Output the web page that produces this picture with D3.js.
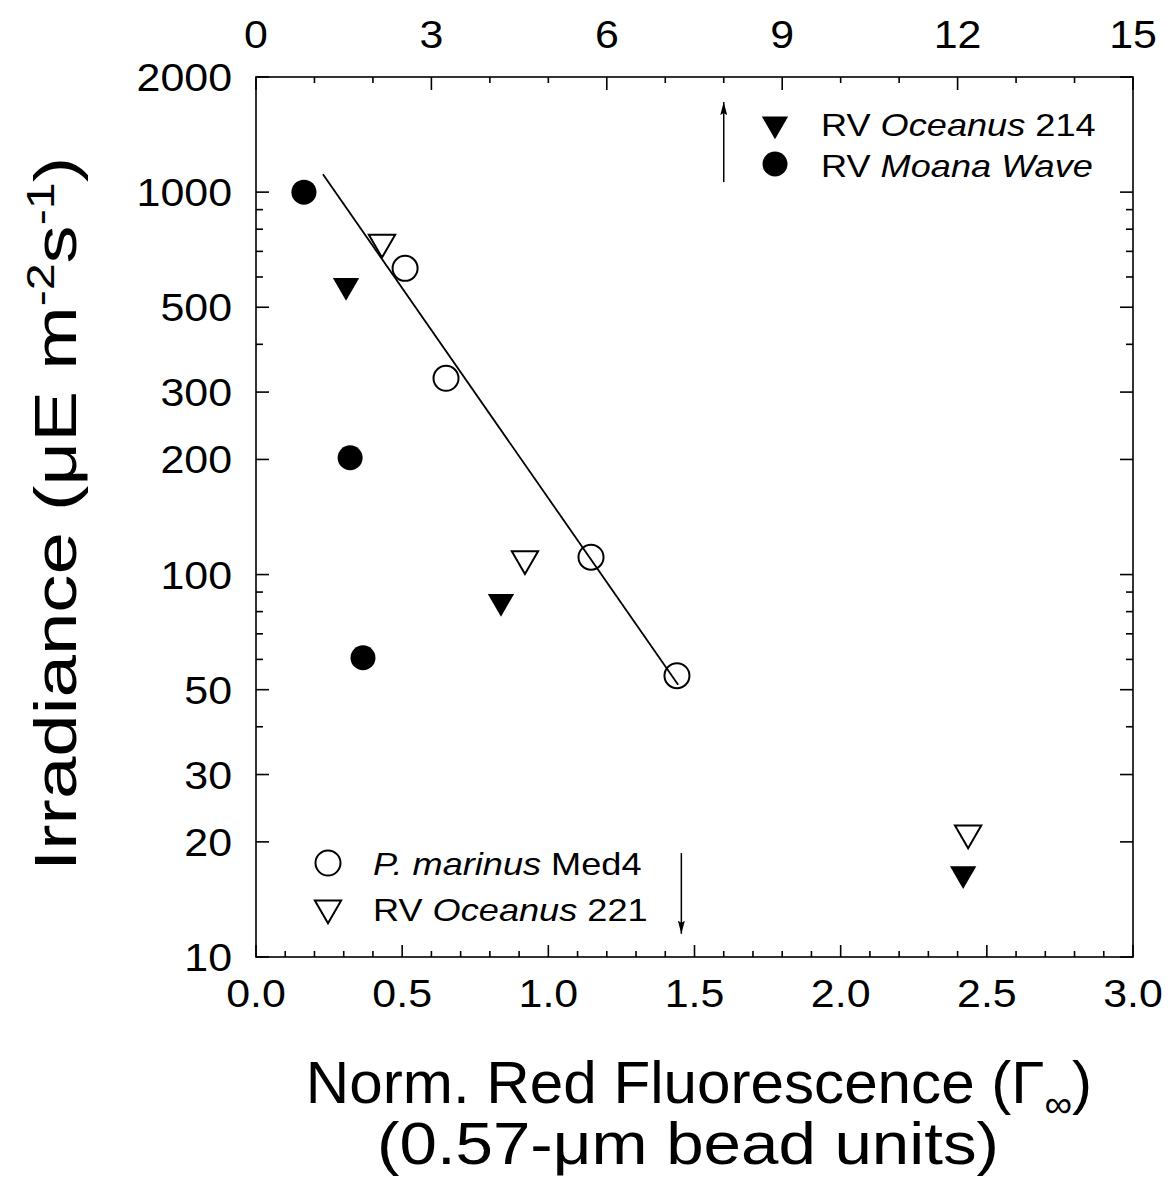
<!DOCTYPE html>
<html>
<head>
<meta charset="utf-8">
<script src="https://cdn.jsdelivr.net/npm/d3@7"></script>
<style>
  body { margin: 0; background: #fff; }
  text { font-family: "Liberation Sans", Arial, sans-serif; fill: #000; }
</style>
</head>
<body>
<div id="chart"></div>
<script>
// data
const med4X = [0.51, 0.65, 1.146, 1.44];
const med4Y = [632, 326, 111, 54.4];
const oc221X = [0.431, 0.92, 2.436];
const oc221Y = [739, 110, 21.1];
const oc214X = [0.308, 0.838, 2.419];
const oc214Y = [570, 85, 16.5];
const moanaX = [0.164, 0.322, 0.366];
const moanaY = [1000, 202, 60.6];
const fitX = [0.229, 1.444];
const fitY = [1114, 51.5];
const arrowUp = { x: 1.6, y: [1062, 1720] };
const arrowDown = { x: 1.455, y: [18.7, 11.5] };

const xTicksMajor = [0, 0.5, 1.0, 1.5, 2.0, 2.5, 3.0];
const topTicksMajor = [0, 3, 6, 9, 12, 15];
const yTickLabels = [10, 20, 30, 50, 100, 200, 300, 500, 1000, 2000];

const W = 1171, H = 1191;
const margin = { top: 77, right: 38, bottom: 234, left: 256 };
const width = W - margin.left - margin.right;
const height = H - margin.top - margin.bottom;

const svg = d3.select("#chart").append("svg")
  .attr("width", W).attr("height", H);

const g = svg.append("g")
  .attr("transform", `translate(${margin.left},${margin.top})`);

const x = d3.scaleLinear().domain([0, 3]).range([0, width]);
const xTop = d3.scaleLinear().domain([0, 15]).range([0, width]);
const y = d3.scaleLog().domain([10, 2000]).range([height, 0]);

// minor tick values
const xMinor = d3.range(0, 31).map(d => d / 10).filter(d => !xTicksMajor.some(m => Math.abs(m - d) < 1e-9));
const topMinor = d3.range(0, 16).filter(d => d % 3 !== 0);
const yMinor = [];
[10, 100].forEach(dec => {
  for (let k = 1; k <= 9; k++) {
    const v = dec * k;
    if (!yTickLabels.includes(v)) yMinor.push(v);
  }
});

const tickFont = 39, tickSx = 1.1;
const stroke = 1.6;

// frame
g.append("rect")
  .attr("width", width).attr("height", height)
  .attr("fill", "none").attr("stroke", "#000").attr("stroke-width", stroke);

// bottom axis
const bottomAxis = g.append("g").attr("transform", `translate(0,${height})`);
bottomAxis.selectAll(".maj").data(xTicksMajor).join("line")
  .attr("x1", d => x(d)).attr("x2", d => x(d)).attr("y1", 0).attr("y2", -12)
  .attr("stroke", "#000").attr("stroke-width", stroke);
bottomAxis.selectAll(".min").data(xMinor).join("line")
  .attr("x1", d => x(d)).attr("x2", d => x(d)).attr("y1", 0).attr("y2", -6)
  .attr("stroke", "#000").attr("stroke-width", stroke);
bottomAxis.selectAll("text").data(xTicksMajor).join("text")
  .attr("transform", d => `translate(${x(d)},${50}) scale(${tickSx},1)`)
  .attr("text-anchor", "middle")
  .style("font-size", tickFont + "px")
  .text(d => d.toFixed(1));

// top axis
const topAxis = g.append("g");
topAxis.selectAll(".maj").data(topTicksMajor).join("line")
  .attr("x1", d => xTop(d)).attr("x2", d => xTop(d)).attr("y1", 0).attr("y2", 13)
  .attr("stroke", "#000").attr("stroke-width", stroke);
topAxis.selectAll(".min").data(topMinor).join("line")
  .attr("x1", d => xTop(d)).attr("x2", d => xTop(d)).attr("y1", 0).attr("y2", 6)
  .attr("stroke", "#000").attr("stroke-width", stroke);
topAxis.selectAll("text").data(topTicksMajor).join("text")
  .attr("transform", d => `translate(${xTop(d)},${-29}) scale(${tickSx},1)`)
  .attr("text-anchor", "middle")
  .style("font-size", tickFont + "px")
  .text(d => d);

// left and right y ticks
[0, width].forEach((x0, i) => {
  const dir = i === 0 ? 1 : -1;
  const ax = g.append("g");
  ax.selectAll(".maj").data(yTickLabels).join("line")
    .attr("x1", x0).attr("x2", x0 + dir * 13)
    .attr("y1", d => y(d)).attr("y2", d => y(d))
    .attr("stroke", "#000").attr("stroke-width", stroke);
  ax.selectAll(".min").data(yMinor).join("line")
    .attr("x1", x0).attr("x2", x0 + dir * 7)
    .attr("y1", d => y(d)).attr("y2", d => y(d))
    .attr("stroke", "#000").attr("stroke-width", stroke);
});
g.append("g").selectAll("text").data(yTickLabels).join("text")
  .attr("transform", d => `translate(${-24},${y(d) + 14}) scale(${tickSx},1)`)
  .attr("text-anchor", "end")
  .style("font-size", tickFont + "px")
  .text(d => d);

// regression line
g.append("path")
  .datum(d3.zip(fitX, fitY))
  .attr("d", d3.line().x(d => x(d[0])).y(d => y(d[1])))
  .attr("fill", "none").attr("stroke", "#000").attr("stroke-width", 1.8);

// symbols
const tri = d3.symbol().type(d3.symbolTriangle).size(300);
function triDown(sel) {
  sel.attr("d", tri).attr("transform", d => `translate(${d.px},${d.py}) rotate(180)`);
}
const pts = (xs, ys) => xs.map((v, i) => ({ px: x(v), py: y(ys[i]) }));

g.selectAll(".moana").data(pts(moanaX, moanaY)).join("circle")
  .attr("cx", d => d.px).attr("cy", d => d.py).attr("r", 12.5).attr("fill", "#000");
g.selectAll(".med4").data(pts(med4X, med4Y)).join("circle")
  .attr("cx", d => d.px).attr("cy", d => d.py).attr("r", 12.5)
  .attr("fill", "none").attr("stroke", "#000").attr("stroke-width", 2);
g.selectAll(".oc214").data(pts(oc214X, oc214Y)).join("path")
  .call(triDown).attr("fill", "#000");
g.selectAll(".oc221").data(pts(oc221X, oc221Y)).join("path")
  .call(triDown).attr("fill", "none").attr("stroke", "#000").attr("stroke-width", 2);

// arrows
svg.append("defs").append("marker")
  .attr("id", "head").attr("viewBox", "0 0 13 7").attr("refX", 13).attr("refY", 3.5)
  .attr("markerWidth", 13).attr("markerHeight", 7).attr("markerUnits", "userSpaceOnUse")
  .attr("orient", "auto")
  .append("path").attr("d", "M0,0 L13,3.5 L0,7 L2,3.5 Z").attr("fill", "#000");
[arrowUp, arrowDown].forEach(a => {
  g.append("line")
    .attr("x1", x(a.x)).attr("x2", x(a.x))
    .attr("y1", y(a.y[0])).attr("y2", y(a.y[1]))
    .attr("stroke", "#000").attr("stroke-width", 1.5)
    .attr("marker-end", "url(#head)");
});

// legends
const legFont = 32, legSx = 1.13;
function legendText(gx, gy, parts) {
  const t = svg.append("text")
    .attr("transform", `translate(${gx},${gy}) scale(${legSx},1)`)
    .style("font-size", legFont + "px");
  parts.forEach(p => t.append("tspan").style("font-style", p[1] ? "italic" : "normal").text(p[0]));
}
const legTri = d3.symbol().type(d3.symbolTriangle).size(300);
svg.append("path").attr("d", legTri).attr("transform", "translate(775,124) rotate(180)").attr("fill", "#000");
legendText(821, 136, [["RV ", false], ["Oceanus", true], [" 214", false]]);
svg.append("circle").attr("cx", 775).attr("cy", 164).attr("r", 12.5).attr("fill", "#000");
legendText(821, 177, [["RV ", false], ["Moana Wave", true]]);

svg.append("circle").attr("cx", 328).attr("cy", 863).attr("r", 12.5)
  .attr("fill", "none").attr("stroke", "#000").attr("stroke-width", 2);
legendText(373, 875, [["P. marinus", true], [" Med4", false]]);
svg.append("path").attr("d", legTri).attr("transform", "translate(328,908) rotate(180)")
  .attr("fill", "none").attr("stroke", "#000").attr("stroke-width", 2);
legendText(373, 921, [["RV ", false], ["Oceanus", true], [" 221", false]]);

// axis titles
const yTitleFont = 60;
const yt = svg.append("text")
  .attr("transform", `translate(76,514) rotate(-90) scale(1.27,1)`)
  .attr("text-anchor", "middle")
  .style("font-size", yTitleFont + "px");
yt.append("tspan").text("Irradiance (\u03bcE m");
yt.append("tspan").attr("dy", -22).style("font-size", "38px").text("-2");
yt.append("tspan").attr("dy", 22).text("s");
yt.append("tspan").attr("dy", -22).style("font-size", "38px").text("-1");
yt.append("tspan").attr("dy", 22).text(")");

const xTitleFont = 59;
const xt = svg.append("text")
  .attr("transform", `translate(699,1103) scale(1.02,1)`)
  .attr("text-anchor", "middle")
  .style("font-size", xTitleFont + "px");
xt.append("tspan").text("Norm. Red Fluorescence (\u0393");
xt.append("tspan").attr("dy", 14).style("font-size", "38px").text("\u221e");
xt.append("tspan").attr("dy", -14).text(")");
svg.append("text")
  .attr("transform", `translate(688,1164) scale(1.14,1)`)
  .attr("text-anchor", "middle")
  .style("font-size", xTitleFont + "px")
  .text("(0.57-\u03bcm bead units)");
</script>
</body>
</html>
